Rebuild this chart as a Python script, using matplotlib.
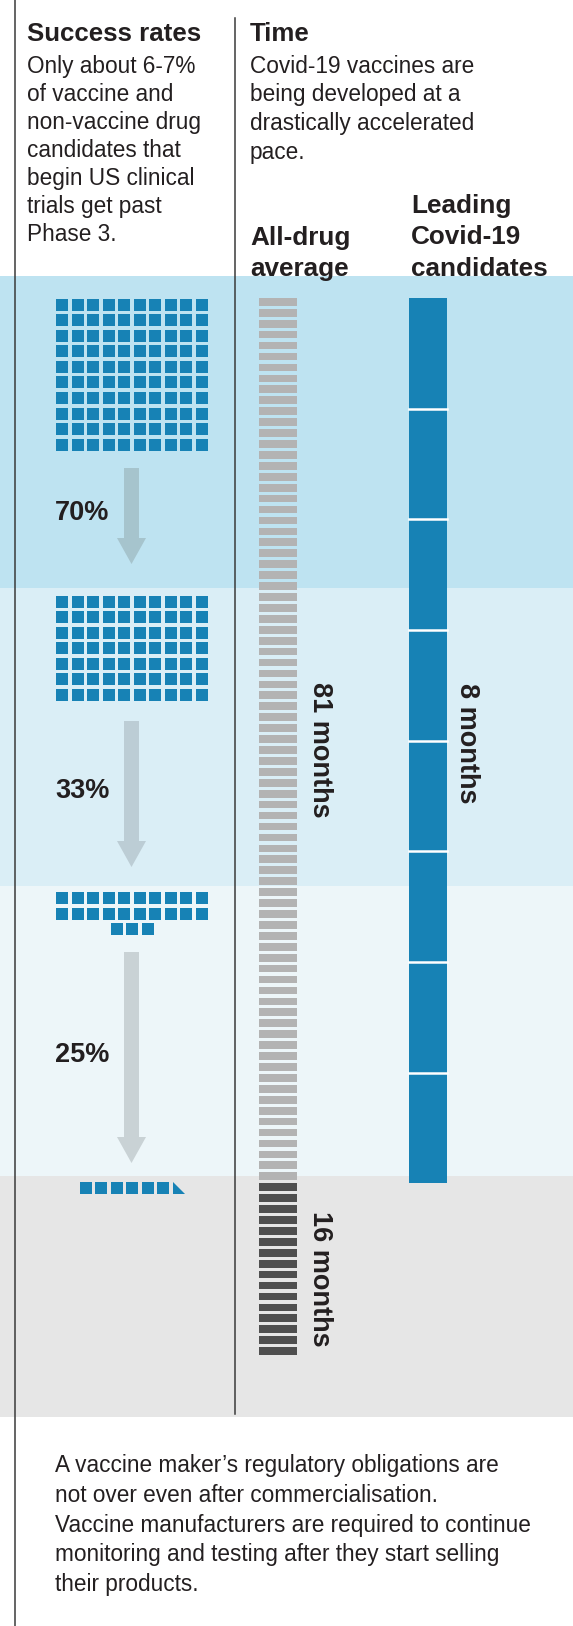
import numpy as np
import matplotlib
matplotlib.use("Agg")
import matplotlib.pyplot as plt
from matplotlib.patches import Rectangle, Polygon

plt.rcParams['font.family'] = ['Liberation Sans', 'DejaVu Sans']

# ---- data ----
stage_counts = [100, 70, 23, 6.5]          # candidates left at each stage (per 100)
pass_rates = ["70%", "33%", "25%"]
all_drug_months = [81, 16]                 # trials, then approval
all_drug_labels = ["81 months", "16 months"]
covid_months = 8
covid_label = "8 months"

left_title = "Success rates"
left_lines = ["Only about 6-7%", "of vaccine and", "non-vaccine drug",
              "candidates that", "begin US clinical", "trials get past",
              "Phase 3."]
right_title = "Time"
right_lines = ["Covid-19 vaccines are", "being developed at a",
               "drastically accelerated", "pace."]
col1_head = ["All-drug", "average"]
col2_head = ["Leading", "Covid-19", "candidates"]
note_lines = ["A vaccine maker\u2019s regulatory obligations are",
              "not over even after commercialisation.",
              "Vaccine manufacturers are required to continue",
              "monitoring and testing after they start selling",
              "their products."]

# ---- layout / style ----
W, H = 573, 1626
TXT = '#231f20'
BLUE = '#1782b5'
band_edges = [276, 588, 886, 1176, 1417]
band_colors = ['#bee3f1', '#daeef6', '#edf6f9', '#e6e6e6']
grid_tops = [299, 596, 892, 1182]
arrow_spans = [(468, 564), (721, 867), (952, 1163)]
arrow_colors = ['#a6c4cd', '#bccdd5', '#c9d2d5']
pitch, sq, center_x = 15.5, 12, 132

fig = plt.figure(figsize=(W / 100, H / 100), dpi=100)
ax = fig.add_axes([0, 0, 1, 1])
ax.set_xlim(0, W)
ax.set_ylim(H, 0)
ax.axis('off')

for i, c in enumerate(band_colors):
    ax.add_patch(Rectangle((0, band_edges[i]), W, band_edges[i + 1] - band_edges[i],
                           color=c, lw=0, zorder=0))

ax.plot([15, 15], [0, H], color='#3a3a3a', lw=1.1, zorder=5)
ax.plot([235, 235], [18, 1414], color='#3a3a3a', lw=1.1, zorder=5)

# waffles: one square per candidate, a half square drawn as a triangle
for n, top in zip(stage_counts, grid_tops):
    full = int(n)
    frac = n - full
    nrows = int(np.ceil(n / 10))
    for r in range(nrows):
        in_row = min(10, full - 10 * r)
        slots = in_row + (1 if (frac > 0 and r == nrows - 1) else 0)
        x0 = center_x - (slots * pitch - (pitch - sq)) / 2
        y = top + r * pitch
        for c in range(in_row):
            ax.add_patch(Rectangle((x0 + c * pitch, y), sq, sq, color=BLUE, lw=0))
        if slots > in_row:
            xt = x0 + in_row * pitch
            ax.add_patch(Polygon([(xt, y), (xt, y + sq), (xt + sq, y + sq)],
                                 closed=True, color=BLUE, lw=0))

# arrows + rates
for (top, tip), col, lab in zip(arrow_spans, arrow_colors, pass_rates):
    hh = 26
    pts = [(124, top), (139, top), (139, tip - hh), (146, tip - hh),
           (131.5, tip), (117, tip - hh), (124, tip - hh)]
    ax.add_patch(Polygon(pts, closed=True, color=col, lw=0))
    ax.text(55, (top + tip) / 2 - 3, lab, fontsize=19.5, fontweight='bold',
            color=TXT, ha='left', va='center')

# all-drug stripes, one per month
p = 10.93
y0 = 298
stripe_cols = ['#b3b3b3'] * all_drug_months[0] + ['#4f4f4f'] * all_drug_months[1]
ys = y0 + np.arange(sum(all_drug_months)) * p
ax.bar(np.full(len(ys), 278), 7.7, bottom=ys, width=38, color=stripe_cols,
       align='center', lw=0)
mid1 = y0 + all_drug_months[0] * p / 2 + 9
mid2 = y0 + all_drug_months[0] * p + all_drug_months[1] * p / 2 + 8
for lab, ym in zip(all_drug_labels, [mid1, mid2]):
    ax.text(320, ym, lab, rotation=270, fontsize=19.5, fontweight='bold',
            color=TXT, ha='center', va='center')

# covid bar (stretched over the same span as the 81-month trial period)
seg = all_drug_months[0] * p / covid_months
ax.bar(np.full(covid_months, 428), seg, bottom=y0 + np.arange(covid_months) * seg,
       width=38, color=BLUE, lw=0)
for k in range(1, covid_months):
    ax.plot([409, 447], [y0 + k * seg, y0 + k * seg], color='white', lw=1.8)
ax.text(467, y0 + covid_months * seg / 2 + 3, covid_label, rotation=270,
        fontsize=19.5, fontweight='bold', color=TXT, ha='center', va='center')

# header texts
ax.text(27, 41, left_title, fontsize=18.6, fontweight='bold', color=TXT, va='baseline')
for i, s in enumerate(left_lines):
    ax.text(27, 73 + 28 * i, s, fontsize=16.3, color=TXT, va='baseline')
ax.text(250, 41, right_title, fontsize=18.6, fontweight='bold', color=TXT, va='baseline')
for i, s in enumerate(right_lines):
    ax.text(250, 73 + 28.5 * i, s, fontsize=16.3, color=TXT, va='baseline')
for i, s in enumerate(col1_head):
    ax.text(250, 245 + 31 * i, s, fontsize=18.8, fontweight='bold', color=TXT, va='baseline')
for i, s in enumerate(col2_head):
    ax.text(411, 213 + 31.5 * i, s, fontsize=18.8, fontweight='bold', color=TXT, va='baseline')

for i, s in enumerate(note_lines):
    ax.text(55, 1472 + 29.8 * i, s, fontsize=16.3, color=TXT, va='baseline')

fig.savefig('out.png', dpi=100)
